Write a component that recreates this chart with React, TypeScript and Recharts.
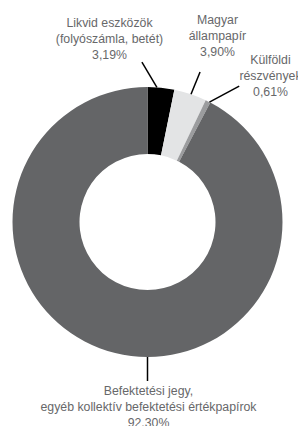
import React from "react";
import { PieChart, Pie, Cell } from "recharts";

const categories = [
  ["Likvid eszközök", "(folyószámla, betét)"],
  ["Magyar", "állampapír"],
  ["Külföldi", "részvények"],
  ["Befektetési jegy,", "egyéb kollektív befektetési értékpapírok"],
];
const values = [3.19, 3.9, 0.61, 92.3];
const valueLabels = ["3,19%", "3,90%", "0,61%", "92,30%"];

const colors = ["#000000", "#e3e4e5", "#9b9c9e", "#646567"];

// leader line angles (degrees) and text offsets relative to the pie centre
const layout = [
  { a0: 86, a1: 92, r1: 160, tx: -38, ty: -195 },
  { a0: 71.2, a1: 70.7, r1: 159, tx: 70, ty: -198 },
  { a0: 62.7, a1: 56, r1: 164, tx: 123, ty: -158 },
  { a0: 270, a1: 270, r1: 159, tx: 1, ty: 173 },
];

const data = values.map((v, i) => ({ name: categories[i].join(" "), value: v }));

const RAD = Math.PI / 180;

const renderLabel = (props: any) => {
  const { cx, cy, outerRadius, index } = props;
  const L = layout[index];
  const x0 = cx + outerRadius * Math.cos(L.a0 * RAD);
  const y0 = cy - outerRadius * Math.sin(L.a0 * RAD);
  const x1 = cx + L.r1 * Math.cos(L.a1 * RAD);
  const y1 = cy - L.r1 * Math.sin(L.a1 * RAD);
  const lines = [...categories[index], valueLabels[index]];
  return (
    <g>
      <line x1={x0} y1={y0} x2={x1} y2={y1} stroke="#000" strokeWidth={1.5} />
      <text
        x={cx + L.tx}
        y={cy + L.ty}
        textAnchor="middle"
        fill="#67686a"
        fontSize={12.3}
        fontFamily="'Liberation Sans', Arial, sans-serif"
      >
        {lines.map((t, k) => (
          <tspan key={k} x={cx + L.tx} dy={k === 0 ? 0 : 16}>
            {t}
          </tspan>
        ))}
      </text>
    </g>
  );
};

export default function App() {
  return (
    <div style={{ margin: "-8px 0 0 -8px", width: 306, height: 426, overflow: "hidden" }}>
      <PieChart width={306} height={426} margin={{ top: 0, right: 0, bottom: 0, left: 0 }}>
        <Pie
          data={data}
          dataKey="value"
          cx={147.5}
          cy={222}
          innerRadius={68}
          outerRadius={135}
          startAngle={90}
          endAngle={-270}
          stroke="none"
          label={renderLabel}
          labelLine={false}
          isAnimationActive={false}
        >
          {data.map((d, i) => (
            <Cell key={i} fill={colors[i]} />
          ))}
        </Pie>
      </PieChart>
    </div>
  );
}
